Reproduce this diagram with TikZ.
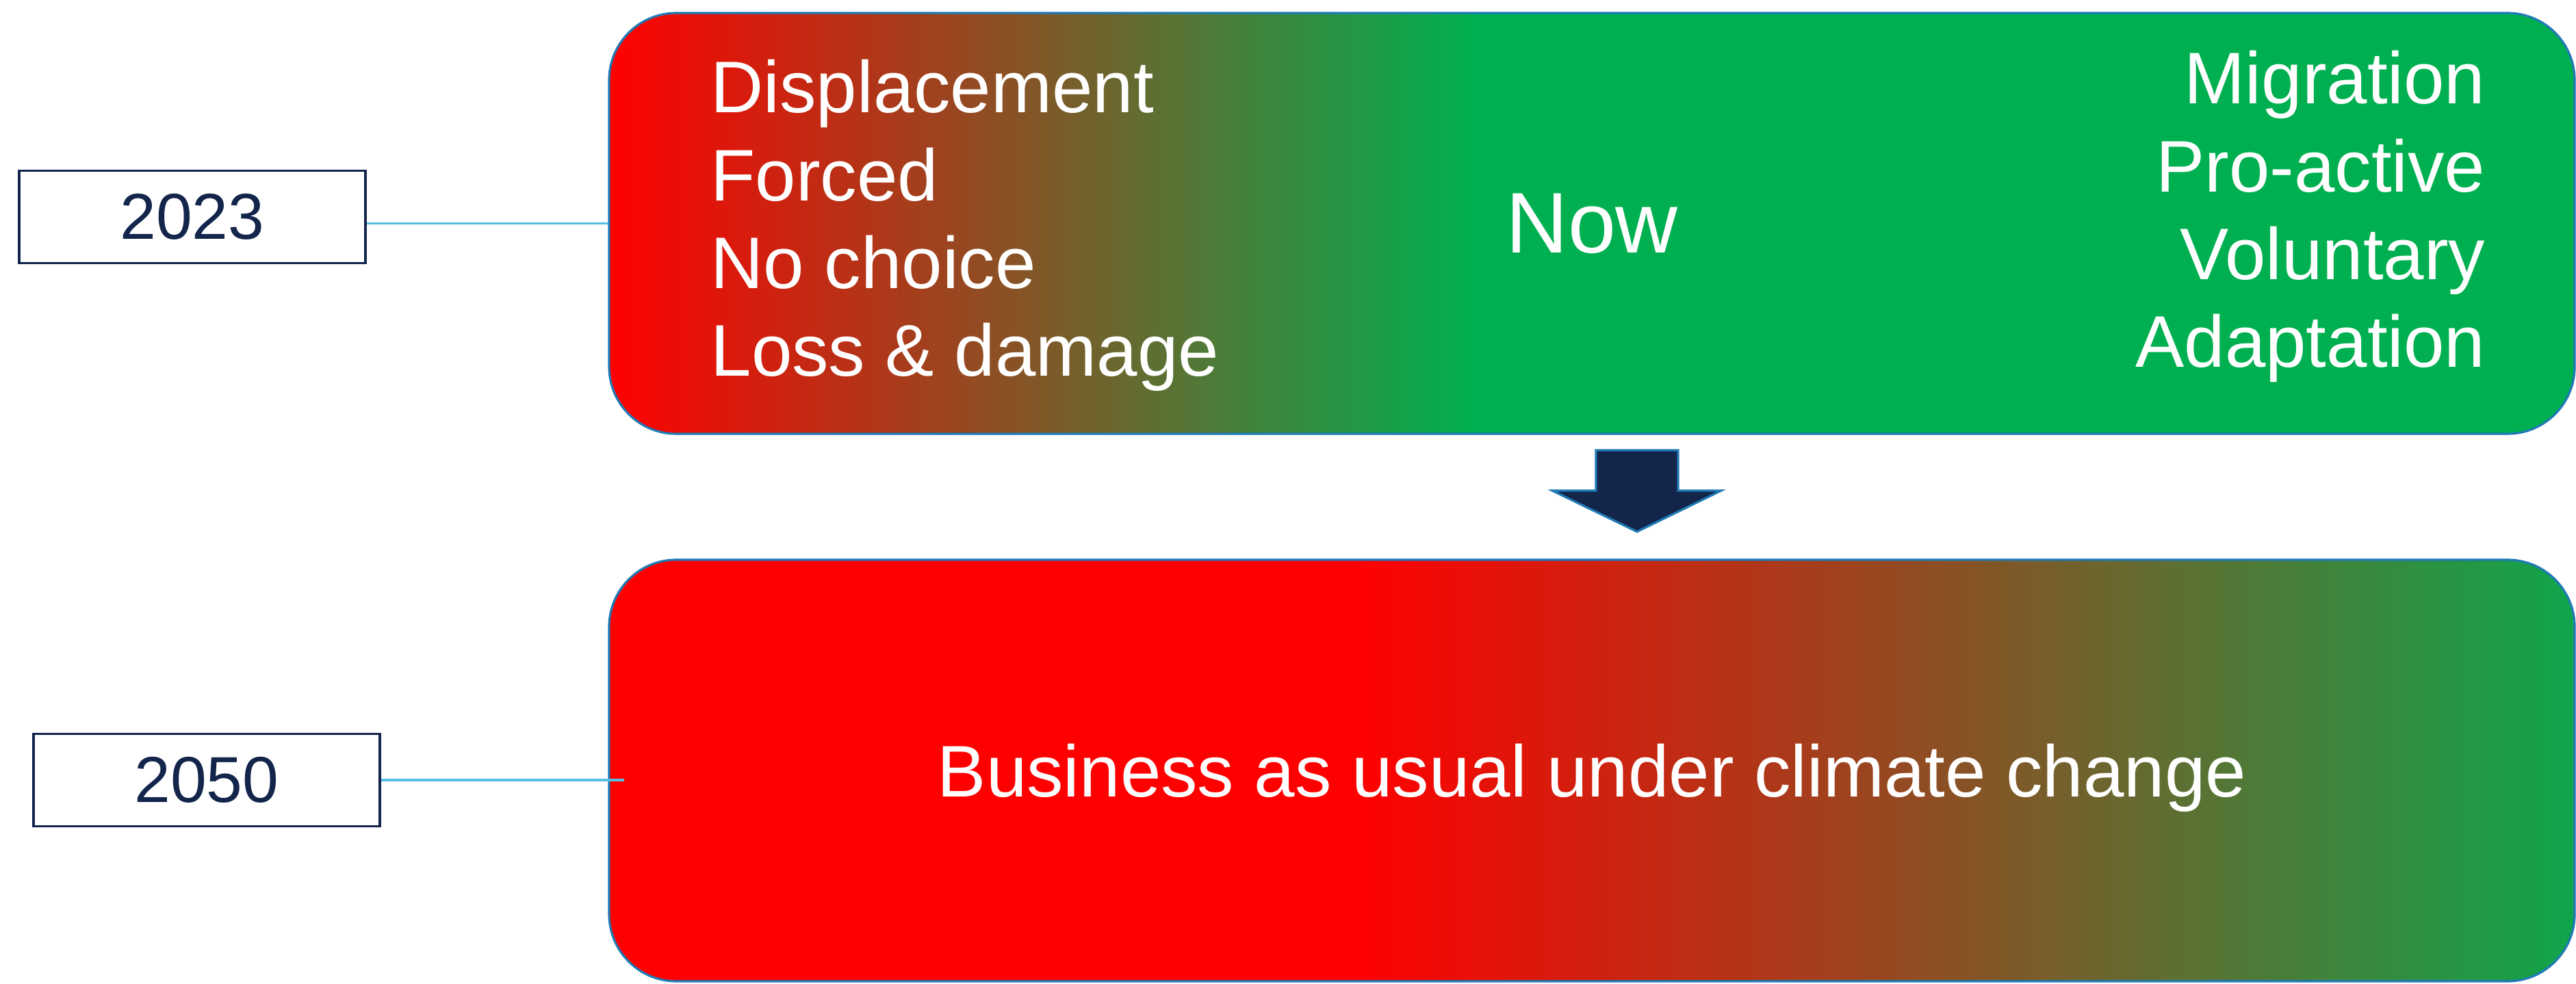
\documentclass[tikz,border=0pt]{standalone}
\usepackage{fontspec}
\setmainfont{Liberation Sans}
\definecolor{hotred}{HTML}{FF0000}
\definecolor{coolgreen}{HTML}{00B050}
\definecolor{navy}{HTML}{13254B}
\definecolor{rimblue}{HTML}{1F7AB5}
\definecolor{tieblue}{HTML}{56BDE3}
\pgfdeclarehorizontalshading{nowshade}{100bp}{color(0bp)=(hotred); color(25bp)=(hotred); color(47bp)=(coolgreen); color(100bp)=(coolgreen)}
\pgfdeclarehorizontalshading{baushade}{100bp}{color(0bp)=(hotred); color(44bp)=(hotred); color(77bp)=(coolgreen); color(100bp)=(coolgreen)}

\begin{document}
\begin{tikzpicture}[
	stage/.style={draw=rimblue, line width=0.9pt, rounded corners=0.98cm, minimum width=28.72cm, text=white, shade},
	year/.style={draw=navy, line width=0.9pt, fill=white, minimum width=5.06cm, minimum height=1.35cm, text=navy, font=\fontsize{27}{32}\selectfont},
	tie/.style={draw=tieblue, line width=0.9pt},
	item/.style={text=white, inner sep=0pt, font=\fontsize{30.4}{36}\selectfont}]
	\useasboundingbox (0,0) rectangle (37.64,-14.38);
	\node[stage, shading=nowshade, minimum height=6.15cm, font=\fontsize{35.8}{43}\selectfont] (now) at (23.26,-3.265) {Now};
	\node[stage, shading=baushade, minimum height=6.16cm, text depth=0pt, font=\fontsize{30.4}{36}\selectfont] (bau) at (23.26,-11.26) {Business as usual under climate change};
	\foreach \w [count=\i] in {Displacement,Forced,No choice,Loss \& damage}
	  \node[item, anchor=base west] (push\i) at (10.38,{-1.65-1.283*(\i-1)}) {\w};
	\foreach \w [count=\i] in {Migration,Pro-active,Voluntary,Adaptation}
	  \node[item, anchor=base east] (pull\i) at (36.32,{-1.52-1.283*(\i-1)}) {\w};
	\node[year] (y23) at (2.81,-3.17) {2023};
	\node[year] (y50) at (3.02,-11.40) {2050};
	\draw[tie] (now.west) -- (now.west -| y23.east);
	\draw[tie] (y50.east) -- ([xshift=2.4mm]y50.east -| bau.west);
	\draw[draw=rimblue, fill=navy, line width=0.9pt] (23.32,-6.58) -- (24.52,-6.58) -- (24.52,-7.17) -- (25.15,-7.17)
	  -- (23.92,-7.77) -- (22.68,-7.17) -- (23.32,-7.17) -- cycle;
\end{tikzpicture}
\end{document}
